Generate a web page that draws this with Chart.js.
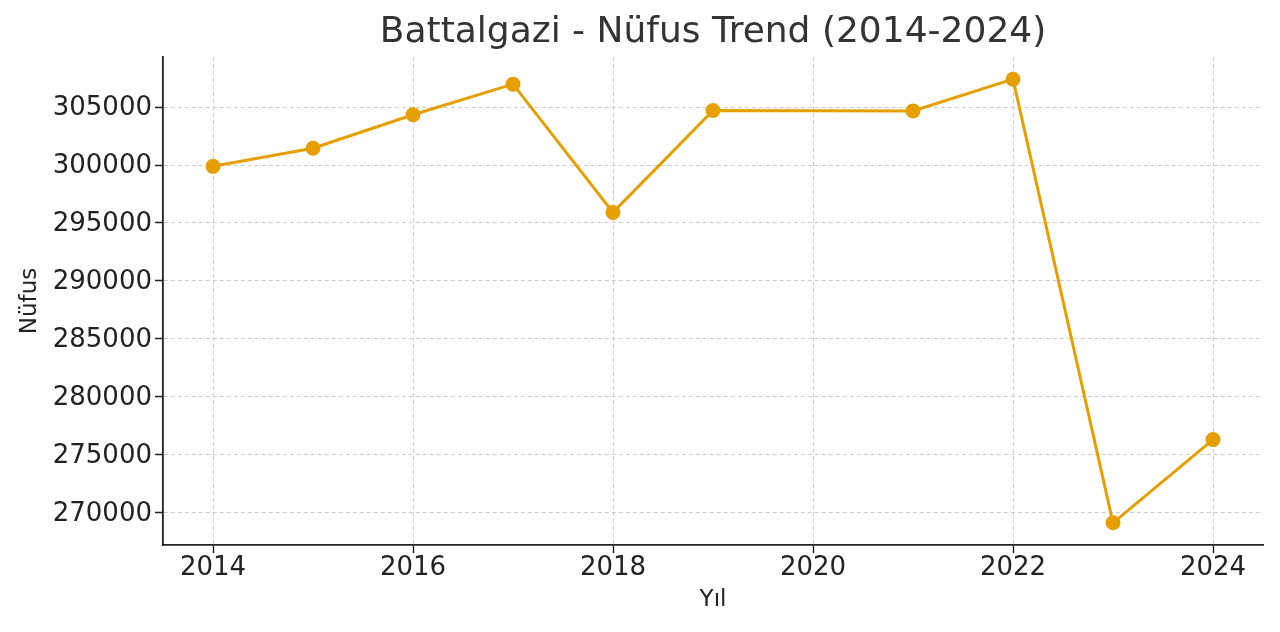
<!DOCTYPE html>
<html>
<head>
<meta charset="utf-8">
<script src="https://cdn.jsdelivr.net/npm/chart.js@4.4.1/dist/chart.umd.min.js"></script>
<style>
  html, body { margin: 0; padding: 0; background: #ffffff; }
  #wrap { width: 1280px; height: 632px; position: relative; }
</style>
</head>
<body>
<div id="wrap"><canvas id="c" width="1280" height="632"></canvas></div>
<script>
const years = [2014, 2015, 2016, 2017, 2018, 2019, 2021, 2022, 2023, 2024];
const population = [299890, 301450, 304350, 306990, 295910, 304720, 304680, 307420, 269090, 276280];
const xTickValues = [2014, 2016, 2018, 2020, 2022, 2024];
const yTickValues = [270000, 275000, 280000, 285000, 290000, 295000, 300000, 305000];

const chartTitle = 'Battalgazi - Nüfus Trend (2014-2024)';
const xTitle = 'Yıl';
const yTitle = 'Nüfus';

const dataMin = Math.min(...population), dataMax = Math.max(...population);
const margin = (dataMax - dataMin) * 0.05;

const FONT = "'DejaVu Sans', sans-serif";
const lineColor = '#E69F00';
const gridColor = 'rgba(200,200,200,0.9)';
const axisColor = '#222222';

new Chart(document.getElementById('c'), {
  type: 'line',
  data: {
    datasets: [{
      data: years.map((y, i) => ({ x: y, y: population[i] })),
      borderColor: lineColor,
      backgroundColor: lineColor,
      borderWidth: 3,
      pointRadius: 6,
      pointHoverRadius: 6,
      pointBackgroundColor: lineColor,
      pointBorderColor: lineColor,
      tension: 0,
      fill: false,
      clip: false
    }]
  },
  options: {
    responsive: false,
    animation: false,
    events: [],
    layout: { padding: { left: 0, right: 17, top: 0, bottom: 0 } },
    plugins: {
      legend: { display: false },
      tooltip: { enabled: false },
      title: {
        display: true,
        text: chartTitle,
        fullSize: false,
        color: '#333333',
        font: { family: FONT, size: 36, weight: 'normal' },
        padding: { top: 11, bottom: 2.8 }
      }
    },
    scales: {
      x: {
        type: 'linear',
        min: 2013.5,
        max: 2024.5,
        afterBuildTicks: (s) => { s.ticks = xTickValues.map(v => ({ value: v })); },
        afterFit: (s) => { s.height = 87; },
        ticks: {
          color: axisColor,
          font: { family: FONT, size: 26 },
          padding: 0,
          maxRotation: 0,
          autoSkip: false,
          callback: (v) => String(v)
        },
        grid: {
          display: true,
          color: gridColor,
          lineWidth: 1,
          drawTicks: true,
          tickLength: 8,
          tickColor: axisColor,
          tickWidth: 1.5,
          tickBorderDash: []
        },
        border: { display: true, color: axisColor, width: 1.8, dash: [4, 3] },
        title: {
          display: true,
          text: xTitle,
          color: axisColor,
          font: { family: FONT, size: 23 },
          padding: { top: 0, bottom: 18 }
        }
      },
      y: {
        type: 'linear',
        min: dataMin - margin,
        max: dataMax + margin,
        afterBuildTicks: (s) => { s.ticks = yTickValues.map(v => ({ value: v })); },
        afterFit: (s) => { s.width = 163; },
        ticks: {
          color: axisColor,
          font: { family: FONT, size: 26 },
          padding: 3,
          labelOffset: 1.5,
          autoSkip: false,
          callback: (v) => String(v)
        },
        grid: {
          display: true,
          color: gridColor,
          lineWidth: 1,
          drawTicks: true,
          tickLength: 8,
          tickColor: axisColor,
          tickWidth: 1.5,
          tickBorderDash: []
        },
        border: { display: true, color: axisColor, width: 1.8, dash: [4, 3] },
        title: {
          display: true,
          text: yTitle,
          color: axisColor,
          font: { family: FONT, size: 23 },
          padding: { top: 16, bottom: 0 }
        }
      }
    }
  }
});
</script>
</body>
</html>
